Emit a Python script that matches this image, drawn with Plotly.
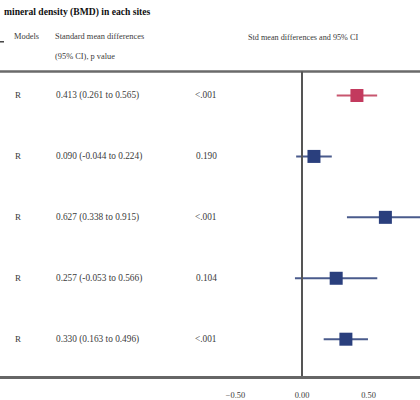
import plotly.graph_objects as go

# ---- data ----
models = ["R", "R", "R", "R", "R"]
smd = [0.413, 0.090, 0.627, 0.257, 0.330]
ci_low = [0.261, -0.044, 0.338, -0.053, 0.163]
ci_high = [0.565, 0.224, 0.915, 0.566, 0.496]
p_values = ["<.001", "0.190", "<.001", "0.104", "<.001"]
is_overall = [True, False, False, False, False]
tick_vals = [-0.5, 0.0, 0.5]
title_text = "mineral density (BMD) in each sites"

W, H = 420, 400
B = 22
PH = H - B  # plot area height in px

def px_x(p):
    return p / W

def px_y(p):
    return 1 - p / PH

rows = list(range(len(smd)))
red = "#C33A5E"
red_line = "#C8566F"
navy = "#2A3F7D"
navy_line = "#4A5B8C"
font_family = "Liberation Serif, Times New Roman, serif"
txt_col = "#3a3a3a"

fig = go.Figure()
for i in rows:
    col = red if is_overall[i] else navy
    lcol = red_line if is_overall[i] else navy_line
    fig.add_trace(go.Scatter(
        x=[smd[i]], y=[i], mode="markers",
        marker=dict(symbol="square", size=13, color=col, line=dict(width=0)),
        error_x=dict(type="data", symmetric=False,
                     array=[ci_high[i] - smd[i]], arrayminus=[smd[i] - ci_low[i]],
                     color=lcol, thickness=2, width=0),
        showlegend=False, cliponaxis=True,
    ))

ann = []
def add_text(x, y, text, xanchor="left", yref="paper", size=8, bold=False, color=txt_col):
    ann.append(dict(x=x, y=y, xref="paper", yref=yref, text=("<b>%s</b>" % text) if bold else text,
                    showarrow=False, xanchor=xanchor, yanchor="middle",
                    font=dict(family=font_family, size=size, color=color)))

add_text(px_x(2), px_y(12), title_text, size=9.6, bold=True, color="#111")
add_text(px_x(12), px_y(37), "Models", size=8.4)
add_text(px_x(53), px_y(37), "Standard mean differences", size=8.4)
add_text(px_x(53), px_y(57), "(95% CI), p value", size=8.4)
add_text(px_x(303), px_y(38), "Std mean differences and 95% CI", xanchor="center", size=8.2)

for i in rows:
    add_text(px_x(18), i, models[i], xanchor="center", yref="y", size=9)
    add_text(px_x(54), i, "%.3f (%.3f to %.3f)" % (smd[i], ci_low[i], ci_high[i]), yref="y", size=9.3)
    add_text(px_x(206), i, p_values[i], xanchor="center", yref="y", size=9.3)

shapes = [
    dict(type="line", xref="paper", yref="paper", x0=0, x1=1, y0=px_y(72), y1=px_y(72),
         line=dict(color="#6a6a6a", width=2.5)),
    dict(type="line", xref="x", yref="paper", x0=0, x1=0, y0=0, y1=px_y(72),
         line=dict(color="#555", width=2)),
    dict(type="line", xref="paper", yref="paper", x0=0, x1=px_x(4), y0=px_y(42), y1=px_y(42),
         line=dict(color="#444", width=1.5)),
]

zero_px = 302.0
unit_px = 133.0
x_range = [-zero_px / unit_px, (W - zero_px) / unit_px]
row_px = (341 - 96) / (len(smd) - 1)
y_top = -96 / row_px
y_bot = (len(smd) - 1) + (PH - 341) / row_px

fig.update_layout(
    width=W, height=H,
    margin=dict(l=0, r=0, t=0, b=B),
    paper_bgcolor="white", plot_bgcolor="white",
    annotations=ann, shapes=shapes,
    xaxis=dict(range=x_range, tickvals=tick_vals, tickformat=".2f", showgrid=False,
               zeroline=False, showline=True, linecolor="#666", linewidth=2.5,
               ticks="", ticklabelstandoff=9,
               tickfont=dict(family=font_family, size=8.4, color=txt_col), fixedrange=True),
    yaxis=dict(range=[y_bot, y_top], showticklabels=False, showgrid=False, zeroline=False,
               showline=False, fixedrange=True),
)

fig.write_html("out.html", config={"displayModeBar": False},
               post_script="document.body.style.margin='0';document.body.style.padding='0';")
